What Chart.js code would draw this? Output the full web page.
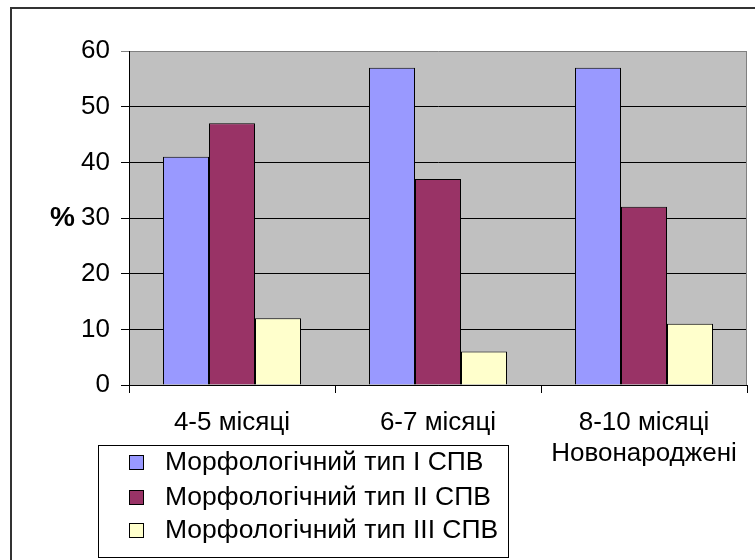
<!DOCTYPE html>
<html>
<head>
<meta charset="utf-8">
<script src="https://cdn.jsdelivr.net/npm/chart.js@4/dist/chart.umd.min.js"></script>
<style>
  html, body { margin: 0; padding: 0; background: #fff; }
  #wrap { width: 755px; height: 560px; }
</style>
</head>
<body>
<div id="wrap"><canvas id="barChart" width="755" height="560"></canvas></div>
<script>
"use strict";

var categories = [["4-5 місяці"], ["6-7 місяці"], ["8-10 місяці", "Новонароджені"]];
var series_names = ["Морфологічний тип I СПВ", "Морфологічний тип II СПВ", "Морфологічний тип III СПВ"];
var type1 = [41, 57, 57];
var type2 = [47, 37, 32];
var type3 = [12, 6, 11];
var colors = ["#9999FF", "#993366", "#FFFFCC"];

var FONT = "'Liberation Sans', Arial, sans-serif";

// gray plot area, outer frame, "%" label and the boxed legend
var excel_look = {
    id: "excel_look",
    beforeDraw: function (chart) {
        var ctx = chart.ctx, a = chart.chartArea;
        ctx.save();
        ctx.fillStyle = "#C0C0C0";
        ctx.fillRect(a.left, a.top, a.right - a.left, a.bottom - a.top);
        ctx.restore();
    },
    afterDraw: function (chart) {
        var ctx = chart.ctx, a = chart.chartArea;
        ctx.save();

        // right edge of plot area
        ctx.strokeStyle = "#808080";
        ctx.lineWidth = 1;
        ctx.beginPath();
        ctx.moveTo(a.right - 0.5, a.top);
        ctx.lineTo(a.right - 0.5, a.bottom);
        ctx.stroke();

        // outer chart frame
        ctx.strokeStyle = "#333";
        ctx.lineWidth = 2;
        ctx.strokeRect(11, 8, 800, 600);

        // "%" axis label
        ctx.fillStyle = "#000";
        ctx.font = "bold 28px " + FONT;
        ctx.textAlign = "right";
        ctx.textBaseline = "middle";
        ctx.fillText("%", 75, chart.scales.y.getPixelForValue(30));

        // legend
        ctx.strokeStyle = "#000";
        ctx.lineWidth = 1;
        ctx.strokeRect(98.5, 445.5, 410, 112);
        var rows = [462, 497, 530];
        ctx.font = "26.5px " + FONT;
        ctx.textAlign = "left";
        chart.data.datasets.forEach(function (ds, i) {
            ctx.fillStyle = ds.backgroundColor;
            ctx.fillRect(129, rows[i] - 7, 14, 14);
            ctx.strokeRect(129.5, rows[i] - 6.5, 14, 14);
            ctx.fillStyle = "#000";
            ctx.fillText(ds.label, 165, rows[i] + 1);
        });
        ctx.restore();
    }
};

var datasets = [type1, type2, type3].map(function (vals, i) {
    return {
        label: series_names[i],
        data: vals,
        backgroundColor: colors[i],
        borderColor: "#000",
        borderWidth: 1,
        categoryPercentage: 0.67,
        barPercentage: 1.0
    };
});

new Chart(document.getElementById("barChart").getContext("2d"), {
    type: "bar",
    data: { labels: categories, datasets: datasets },
    plugins: [excel_look],
    options: {
        responsive: false,
        animation: false,
        layout: { padding: { top: 51, right: 8, left: 0, bottom: 0 } },
        plugins: { legend: { display: false }, tooltip: { enabled: false } },
        scales: {
            x: {
                afterFit: function (s) { s.height = 175; },
                grid: { offset: true, drawOnChartArea: false, color: "#000", tickLength: 8 },
                border: { color: "#000" },
                ticks: {
                    color: "#000", padding: 15, maxRotation: 0, autoSkip: false,
                    font: { family: FONT, size: 26, lineHeight: 1.17 }
                }
            },
            y: {
                min: 0, max: 60,
                afterFit: function (s) { s.width = 129; },
                grid: {
                    color: function (c) { return c.tick && c.tick.value === 60 ? "#808080" : "#000"; },
                    tickLength: 8
                },
                border: { color: "#000" },
                ticks: {
                    stepSize: 10, color: "#000", padding: 11,
                    font: { family: FONT, size: 26 }
                }
            }
        }
    }
});
</script>
</body>
</html>
